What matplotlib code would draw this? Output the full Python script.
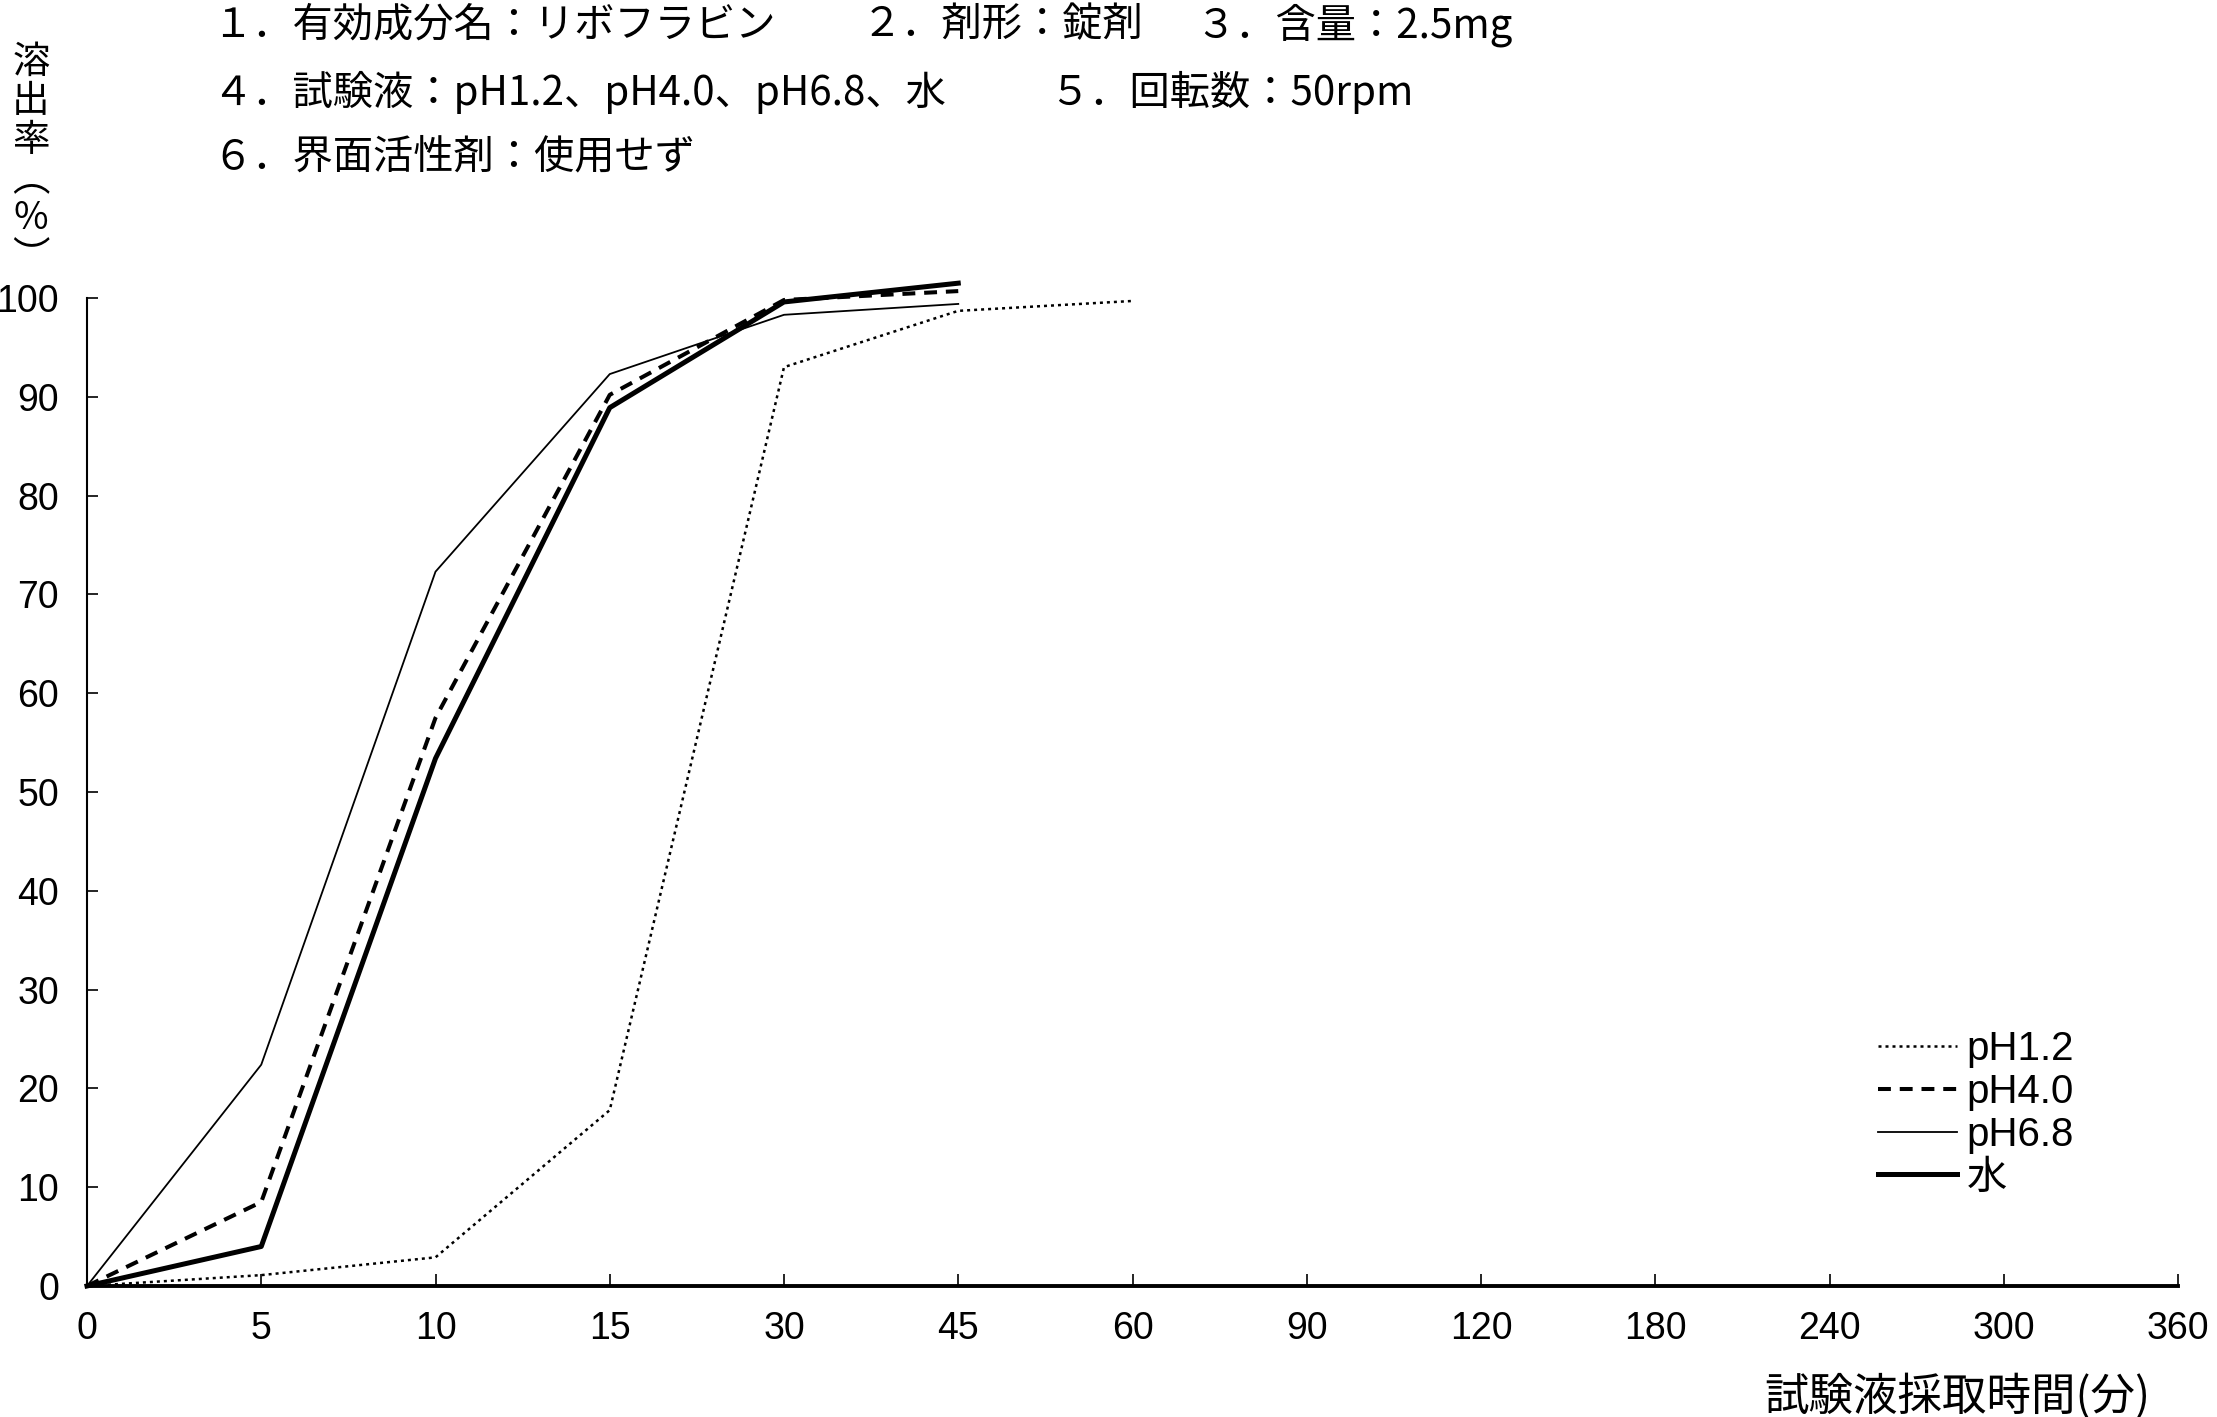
import numpy as np
import matplotlib
matplotlib.use("Agg")
import matplotlib.pyplot as plt

plt.rcParams['font.family'] = ['Liberation Sans', 'Noto Sans CJK JP', 'DejaVu Sans']

# --- data ---
time_labels = ['0', '5', '10', '15', '30', '45', '60', '90', '120', '180', '240', '300', '360']
ph12 = [0, 1.1, 2.9, 17.8, 93.0, 98.7, 99.7]
ph40 = [0, 8.5, 57.5, 90.2, 99.8, 100.7]
ph68 = [0, 22.4, 72.3, 92.3, 98.3, 99.4]
water = [0, 4.0, 53.4, 88.9, 99.6, 101.5]
series_names = ['pH1.2', 'pH4.0', 'pH6.8', '水']

header_segments = [
    ('１．有効成分名：リボフラビン', 212, 25),
    ('２．剤形：錠剤', 862, 25),
    ('３．含量：2.5mg', 1195, 25),
    ('４．試験液：pH1.2、pH4.0、pH6.8、水', 212, 92),
    ('５．回転数：50rpm', 1049, 92),
    ('６．界面活性剤：使用せず', 212, 157),
]
ylabel_text = '溶\n出\n率\n︵\n%\n︶'

W, H = 2217, 1417
fig = plt.figure(figsize=(W / 100, H / 100), dpi=100)
ax = fig.add_axes([87 / W, 1 - 1286 / H, (2178 - 87) / W, (1286 - 298) / H])

x = np.arange(len(time_labels))
ax.plot(x[:len(ph12)], ph12, color='black', lw=1.8, dashes=(1.2, 1.6), clip_on=False, label=series_names[0])
ax.plot(x[:len(ph40)], ph40, color='black', lw=2.9, dashes=(3.2, 2.2), clip_on=False, label=series_names[1])
ax.plot(x[:len(ph68)], ph68, color='black', lw=1.3, clip_on=False, label=series_names[2])
ax.plot(x[:len(water)], water, color='black', lw=3.6, clip_on=False, label=series_names[3])

ax.set_xlim(0, len(time_labels) - 1)
ax.set_ylim(0, 100)
ax.set_xticks(x)
ax.set_xticklabels(time_labels)
ax.set_yticks(np.arange(0, 101, 10))

for side in ['top', 'right']:
    ax.spines[side].set_visible(False)
ax.spines['bottom'].set_linewidth(2.8)
ax.spines['left'].set_linewidth(1.5)
ax.tick_params(axis='x', direction='in', length=9, width=1.2, pad=18, labelsize=27)
ax.tick_params(axis='y', direction='in', length=8, width=1.2, pad=20, labelsize=27)

leg = ax.legend(loc='upper left', bbox_to_anchor=(1878 / W, 1 - 1030 / H),
                bbox_transform=fig.transFigure, frameon=False, fontsize=29,
                handlelength=1.95, handletextpad=0.25, labelspacing=0.12,
                borderpad=0, borderaxespad=0)

# header text
for txt, px, py in header_segments:
    fig.text(px / W, 1 - py / H, txt, family=['Noto Sans CJK JP'], fontsize=29,
             ha='left', va='center')

# vertical y label, one character per line
fig.text(31 / W, 1 - 160 / H, ylabel_text, family=['Noto Sans CJK JP', 'DejaVu Sans'],
         fontsize=27, ha='center', va='center', linespacing=1.0,
         multialignment='center')

fig.text(2150 / W, 1 - 1397 / H, '試験液採取時間(分)', family=['Noto Sans CJK JP'],
         fontsize=32, ha='right', va='center')

fig.savefig('out.png', dpi=100)
